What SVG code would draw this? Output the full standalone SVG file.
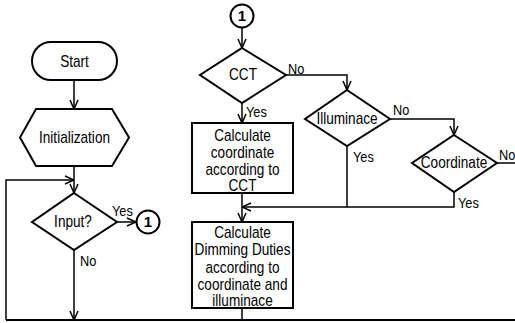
<svg xmlns="http://www.w3.org/2000/svg" width="515" height="323" viewBox="0 0 515 323">
<defs>
<style>
.s{fill:#fff;stroke:#000;stroke-width:2}
.c{fill:none;stroke:#000;stroke-width:1.5}
.t{font-family:"Liberation Sans",Arial,sans-serif;font-size:16px;fill:#000;text-anchor:middle}
.l{font-family:"Liberation Sans",Arial,sans-serif;font-size:15px;fill:#000}
.n{font-family:"Liberation Sans",Arial,sans-serif;font-size:15px;font-weight:bold;fill:#000;text-anchor:middle}
</style>
<marker id="a" viewBox="0 0 10 10" refX="10" refY="5" markerWidth="10" markerHeight="10" markerUnits="userSpaceOnUse" orient="auto">
<path d="M1,1 L10,5 L1,9" fill="none" stroke="#000" stroke-width="1.5"/>
</marker>
</defs>
<rect width="515" height="323" fill="#fff"/>
<g id="connectors">
<path class="c" d="M74,80 V109" marker-end="url(#a)"/>
<path class="c" d="M74,166 V193" marker-end="url(#a)"/>
<path class="c" d="M6,320 V180 H74" marker-end="url(#a)"/>
<path class="c" d="M117,222 H136" marker-end="url(#a)"/>
<path class="c" d="M74,250 V320" marker-end="url(#a)"/>
<path class="c" d="M6,320 H515" style="stroke-width:2"/>
<path class="c" d="M242,28 V48" marker-end="url(#a)"/>
<path class="c" d="M286,75 H347 V90" marker-end="url(#a)"/>
<path class="c" d="M242,103 V123" marker-end="url(#a)"/>
<path class="c" d="M390,119 H454 V135" marker-end="url(#a)"/>
<path class="c" d="M497,163 H515"/>
<path class="c" d="M347,146 V207"/>
<path class="c" d="M454,192 V207 H242" marker-end="url(#a)"/>
<path class="c" d="M242,193 V222" marker-end="url(#a)"/>
<path class="c" d="M242,308 V320"/>
<text class="l" transform="translate(112,216) scale(0.85,1)">Yes</text>
<text class="l" transform="translate(80,266) scale(0.85,1)">No</text>
<text class="l" transform="translate(288,74) scale(0.85,1)">No</text>
<text class="l" transform="translate(246,117) scale(0.85,1)">Yes</text>
<text class="l" transform="translate(393,115) scale(0.85,1)">No</text>
<text class="l" transform="translate(353,162) scale(0.85,1)">Yes</text>
<text class="l" transform="translate(499,160) scale(0.85,1)">No</text>
<text class="l" transform="translate(458,208) scale(0.85,1)">Yes</text>
</g>
<g id="start">
<rect class="s" x="32" y="42" width="85" height="38" rx="19"/>
<text class="t" transform="translate(74.5,67) scale(0.85,1)">Start</text>
</g>
<g id="init">
<polygon class="s" points="36,109 112,109 129,137.5 112,166 36,166 20,137.5"/>
<text class="t" transform="translate(74.5,143) scale(0.85,1)">Initialization</text>
</g>
<g id="input">
<polygon class="s" points="74,193 117,222 74,250 32,222"/>
<text class="t" transform="translate(73,227) scale(0.85,1)">Input?</text>
</g>
<g id="conn1a">
<circle class="s" cx="148" cy="222" r="11.5"/>
<text class="n" x="148" y="227">1</text>
</g>
<g id="conn1b">
<circle class="s" cx="242" cy="16" r="11.5"/>
<text class="n" x="242" y="21">1</text>
</g>
<g id="cct">
<polygon class="s" points="242,48 286,75 242,103 200,75"/>
<text class="t" transform="translate(243,80) scale(0.85,1)">CCT</text>
</g>
<g id="calc1">
<rect class="s" x="192" y="123" width="101" height="70"/>
<text class="t" transform="translate(242.5,141) scale(0.85,1)">Calculate</text>
<text class="t" transform="translate(242.5,158) scale(0.85,1)">coordinate</text>
<text class="t" transform="translate(242.5,175) scale(0.85,1)">according to</text>
<text class="t" transform="translate(242.5,191) scale(0.85,1)">CCT</text>
</g>
<g id="illum">
<polygon class="s" points="347,90 390,119 347,146 305,119"/>
<text class="t" transform="translate(347,124) scale(0.85,1)">Illuminace</text>
</g>
<g id="coord">
<polygon class="s" points="454,135 497,163 454,192 412,163"/>
<text class="t" transform="translate(454,168) scale(0.85,1)">Coordinate</text>
</g>
<g id="calc2">
<rect class="s" x="192" y="222" width="101" height="86"/>
<text class="t" transform="translate(242.5,238) scale(0.85,1)">Calculate</text>
<text class="t" transform="translate(242.5,255) scale(0.85,1)">Dimming Duties</text>
<text class="t" transform="translate(242.5,273) scale(0.85,1)">according to</text>
<text class="t" transform="translate(242.5,290) scale(0.85,1)">coordinate and</text>
<text class="t" transform="translate(242.5,306) scale(0.85,1)">illuminace</text>
</g>
</svg>
